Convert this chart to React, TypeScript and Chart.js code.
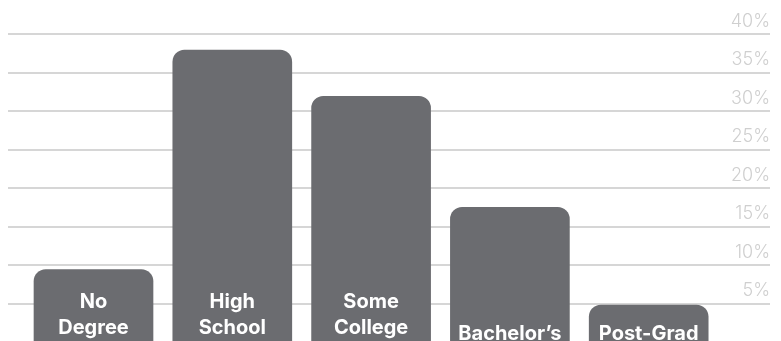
import React, { useEffect, useRef } from 'react';
import { Chart, registerables } from 'chart.js';

Chart.register(...registerables);

// ---- data ----
const categories: (string | string[])[] = [
  ['No', 'Degree'],
  ['High', 'School'],
  ['Some', 'College'],
  'Bachelor’s',
  'Post-Grad',
];
const shares = [9.4, 37.9, 31.9, 17.5, 4.8];
const percentTicks = [0, 5, 10, 15, 20, 25, 30, 35, 40];
const chartTitle = 'Education Level of Voters';

const BAR = '#6b6c70';
const GRID = '#d6d6d6';
const TICK = '#cfcfcf';
const FONT = 'Inter, "Liberation Sans", Arial, sans-serif';

export default function App() {
  const ref = useRef<HTMLCanvasElement | null>(null);

  useEffect(() => {
    if (!ref.current) return;
    const chart = new Chart(ref.current, {
      type: 'bar',
      data: {
        datasets: [
          {
            data: shares.map((v, i) => ({ x: i, y: v })),
            backgroundColor: BAR,
            borderRadius: 12,
            borderSkipped: 'start',
            barThickness: 119,
          },
        ],
      },
      options: {
        animation: false,
        responsive: false,
        maintainAspectRatio: false,
        layout: { padding: { left: 0, right: 3, top: 0, bottom: 0 } },
        plugins: {
          legend: { display: false },
          tooltip: { enabled: false },
          title: {
            display: true,
            text: chartTitle,
            color: '#8a8a8a',
            font: { family: FONT, size: 22, weight: 'bold', lineHeight: 1.2 },
            padding: { top: 0, bottom: 27.6 },
          },
        },
        scales: {
          x: {
            type: 'linear',
            min: -0.616,
            max: 4.874,
            bounds: 'data',
            offset: false,
            grid: { display: false, offset: false },
            border: { display: false },
            afterBuildTicks: (axis: any) => {
              axis.ticks = categories.map((_, i) => ({ value: i }));
            },
            afterFit: (axis: any) => {
              axis.height = 30;
            },
            ticks: {
              z: 1,
              mirror: true,
              crossAlign: 'far',
              color: '#ffffff',
              padding: 8.3,
              maxRotation: 0,
              minRotation: 0,
              autoSkip: false,
              font: (ctx: any) => ({
                family: FONT,
                size: 20,
                weight: 'bold',
                lineHeight: Array.isArray(categories[ctx.index]) ? '26px' : '83.7px',
              }),
              callback: (v: any) => categories[Math.round(Number(v))] as any,
            },
          },
          y: {
            position: 'right',
            min: 0,
            max: 40,
            afterBuildTicks: (axis: any) => {
              axis.ticks = percentTicks.map((v) => ({ value: v }));
            },
            grid: { color: GRID, lineWidth: 2, drawTicks: false },
            border: { display: false },
            ticks: {
              mirror: true,
              padding: 0,
              labelOffset: -12.5,
              color: TICK,
              font: { family: FONT, size: 18, weight: 300 },
              callback: (v: any) => (Number(v) === 0 ? '' : `${v}%`),
            },
          },
        },
      },
    });
    return () => chart.destroy();
  }, []);

  return (
    <div style={{ position: 'absolute', left: 8, top: -20, width: 765, height: 392 }}>
      <canvas ref={ref} width={765} height={392} style={{ width: 765, height: 392 }} />
    </div>
  );
}
